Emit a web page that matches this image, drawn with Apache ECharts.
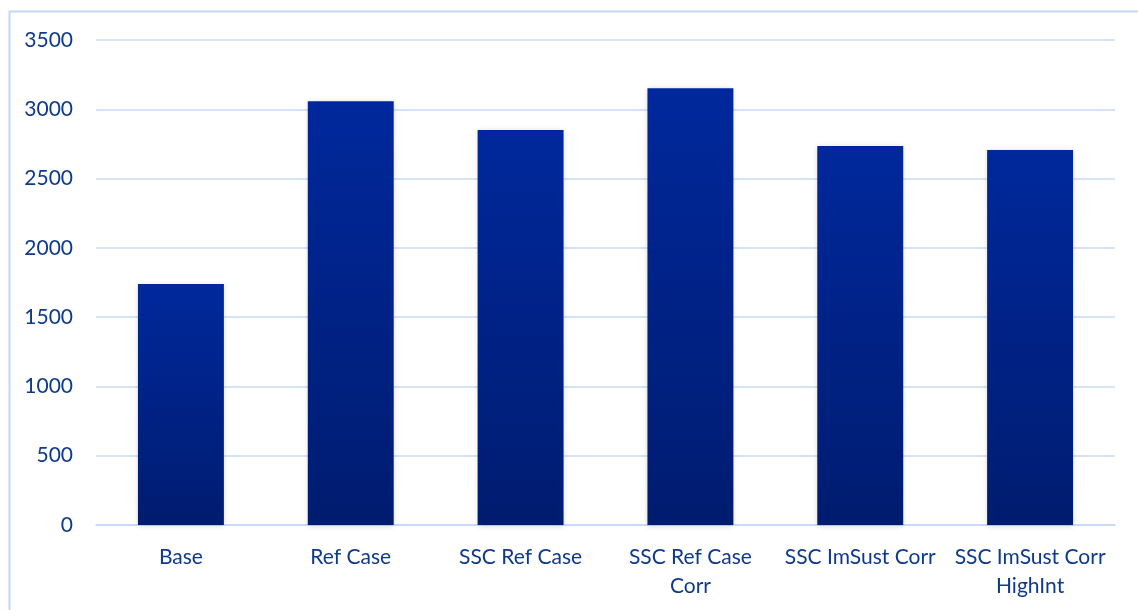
<!DOCTYPE html>
<html><head><meta charset="utf-8">
<script src="https://cdn.jsdelivr.net/npm/echarts@6/dist/echarts.min.js"></script>
<style>html,body{margin:0;padding:0;background:#fff}#c{width:1138px;height:610px}</style>
</head><body><div id="c"></div>
<script>
const categories = ["Base", "Ref Case", "SSC Ref Case", "SSC Ref Case\nCorr", "SSC ImSust Corr", "SSC ImSust Corr\nHighInt"];
const values = [1740, 3058, 2850, 3152, 2735, 2706];
const yTicks = { min: 0, max: 3500, interval: 500 };

const textColor = '#0e3a8c';
const font = 'Lato';
const chart = echarts.init(document.getElementById('c'));
chart.setOption({
  animation: false,
  backgroundColor: '#fff',
  graphic: [{
    type: 'rect', left: 7, top: 9, z: -1,
    shape: { width: 1140, height: 610 },
    style: { fill: 'none', stroke: '#c3d6f8', lineWidth: 2 }
  }],
  grid: { left: 96, right: 23, top: 40, bottom: 85 },
  xAxis: {
    type: 'category', data: categories,
    axisLine: { lineStyle: { color: '#c6d8f9', width: 1.5 } },
    axisTick: { show: false },
    axisLabel: { color: textColor, fontFamily: font, fontSize: 21, margin: 18, lineHeight: 29, interval: 0 }
  },
  yAxis: {
    type: 'value', min: yTicks.min, max: yTicks.max, interval: yTicks.interval,
    axisLine: { show: false }, axisTick: { show: false },
    splitLine: { lineStyle: { color: '#c6d8f9', width: 1.5 } },
    axisLabel: { color: textColor, fontFamily: font, fontSize: 21, margin: 23, formatter: v => String(v) }
  },
  series: [{
    type: 'bar', data: values, barWidth: '50.6%',
    itemStyle: {
      color: new echarts.graphic.LinearGradient(0, 0, 0, 1, [
        { offset: 0, color: '#00289c' },
        { offset: 1, color: '#001c70' }
      ]),
      shadowColor: 'rgba(0,0,0,0.18)', shadowBlur: 5, shadowOffsetX: 0, shadowOffsetY: 1
    }
  }]
});
</script></body></html>
